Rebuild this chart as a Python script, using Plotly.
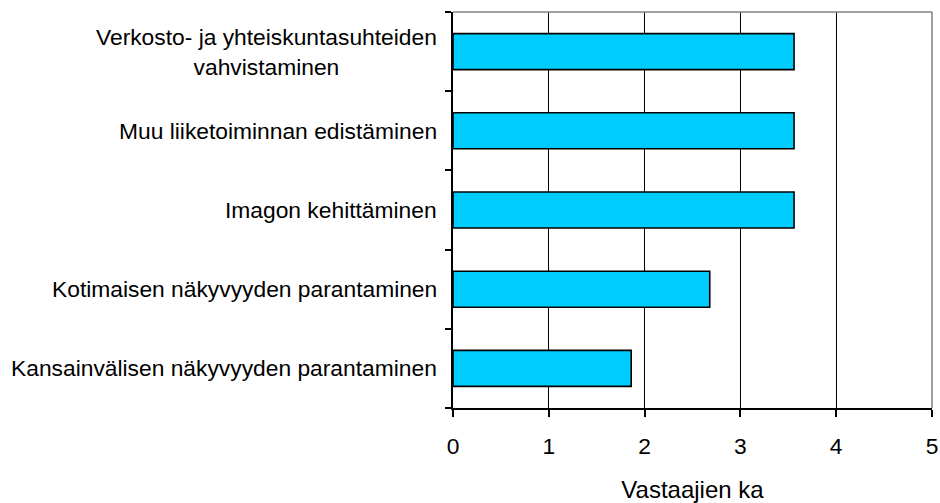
import plotly.graph_objects as go

categories = [
    "Kansainvälisen näkyvyyden parantaminen",
    "Kotimaisen näkyvyyden parantaminen",
    "Imagon kehittäminen",
    "Muu liiketoiminnan edistäminen",
    "Verkosto- ja yhteiskuntasuhteiden<br>vahvistaminen",
]
values = [1.86, 2.68, 3.56, 3.56, 3.56]
x_ticks = [0, 1, 2, 3, 4, 5]
x_title = "Vastaajien ka"

FONT = "Liberation Sans, Arial, sans-serif"
FS = 22.8

fig = go.Figure()
fig.add_trace(go.Bar(
    x=values,
    y=categories,
    orientation="h",
    marker=dict(color="#00CCFF", line=dict(color="black", width=1.6)),
    hoverinfo="x+y",
))

annotations = []
for c in categories:
    annotations.append(dict(
        x=0, xref="paper", y=c, yref="y",
        text=c, showarrow=False, xanchor="right", yanchor="middle",
        xshift=-14, align="center",
        font=dict(family=FONT, size=FS, color="black"),
    ))

frame = dict(color="#808080", width=1.5)
fig.update_layout(
    width=940, height=503,
    margin=dict(l=453, r=8, t=12, b=95, autoexpand=False),
    paper_bgcolor="white", plot_bgcolor="white",
    showlegend=False,
    bargap=0.545,
    font=dict(family=FONT, size=FS, color="black"),
    annotations=annotations,
    shapes=[
        dict(type="line", xref="paper", yref="paper", x0=0, x1=1, y0=1, y1=1, line=frame, layer="above"),
        dict(type="line", xref="paper", yref="paper", x0=1, x1=1, y0=0, y1=1, line=frame, layer="above"),
    ],
)
fig.update_xaxes(
    range=[0, 5], tickvals=x_ticks, ticktext=[str(t) for t in x_ticks],
    showgrid=True, gridcolor="black", gridwidth=1,
    showline=True, linecolor="black", linewidth=1.5,
    ticks="outside", ticklen=7, tickcolor="black", tickwidth=1.5,
    ticklabelstandoff=10,
    tickfont=dict(family=FONT, size=FS, color="black"),
    title=dict(text=x_title, font=dict(family=FONT, size=24, color="black"), standoff=27),
    zeroline=False, fixedrange=True, automargin=False,
)
fig.update_yaxes(
    type="category", range=[-0.5, 4.5],
    showticklabels=False, tickson="boundaries",
    ticks="outside", ticklen=6, tickcolor="black", tickwidth=1.5,
    showline=True, linecolor="black", linewidth=1.5,
    showgrid=False, zeroline=False, fixedrange=True, automargin=False,
)

fig.write_html(
    "out.html",
    config={"displayModeBar": False},
    post_script="document.body.style.margin='0';document.body.style.overflow='hidden';",
)
